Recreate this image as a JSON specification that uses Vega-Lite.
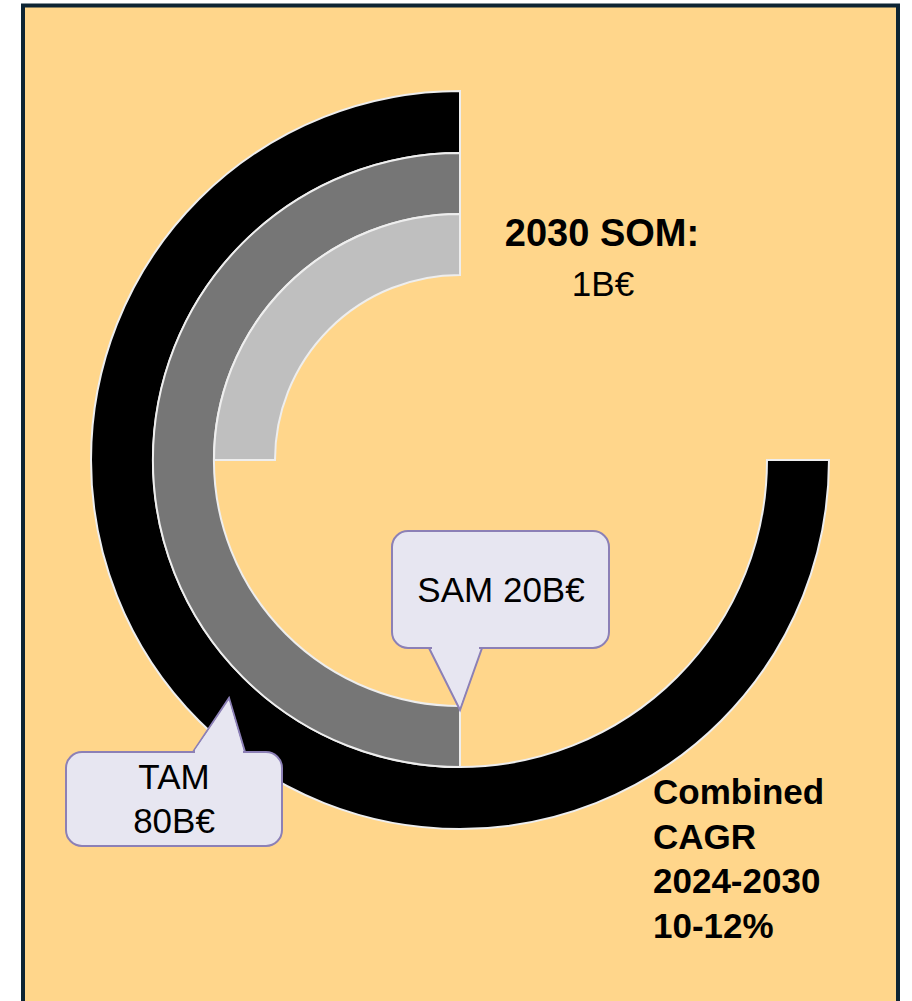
{
  "$schema": "https://vega.github.io/schema/vega-lite/v6.json",
  "width": 912,
  "height": 1001,
  "autosize": {"type": "none"},
  "padding": 0,
  "background": "#ffffff",
  "config": {"view": {"stroke": null}},
  "datasets": {
    "frame": [{"x": 23, "x2": 898, "y": 5.5, "y2": 1012}],
    "rings": [
      {"market": "TAM", "start": 90, "end": 360, "r_in": 307, "r_out": 369, "cx": 460, "cy": 460},
      {"market": "SAM", "start": 180, "end": 360, "r_in": 246, "r_out": 307, "cx": 460, "cy": 460},
      {"market": "SOM", "start": 270, "end": 360, "r_in": 185, "r_out": 246, "cx": 460, "cy": 460}
    ],
    "boxes": [
      {"id": "SAM", "x": 392, "x2": 609, "y": 531, "y2": 648},
      {"id": "TAM", "x": 66, "x2": 282, "y": 752, "y2": 846}
    ],
    "pointers": [
      {"id": "SAM", "x": 429, "y": 648, "y2": 648},
      {"id": "SAM", "x": 460, "y": 710, "y2": 648},
      {"id": "SAM", "x": 482, "y": 648, "y2": 648},
      {"id": "TAM", "x": 193, "y": 752, "y2": 752},
      {"id": "TAM", "x": 229, "y": 698, "y2": 752},
      {"id": "TAM", "x": 245, "y": 752, "y2": 752}
    ],
    "covers": [
      {"id": "SAM", "x": 432, "y": 644, "y2": 650},
      {"id": "SAM", "x": 460, "y": 644, "y2": 706},
      {"id": "SAM", "x": 479, "y": 644, "y2": 650},
      {"id": "TAM", "x": 195, "y": 750, "y2": 756},
      {"id": "TAM", "x": 229, "y": 701, "y2": 756},
      {"id": "TAM", "x": 243, "y": 750, "y2": 756}
    ],
    "boldCenter": [{"text": "2030 SOM:", "x": 602, "y": 246}],
    "regularCenter": [
      {"text": "1B€", "x": 603, "y": 296},
      {"text": "SAM 20B€", "x": 501, "y": 602},
      {"text": "TAM", "x": 174, "y": 789},
      {"text": "80B€", "x": 174, "y": 833}
    ],
    "boldLeft": [
      {"text": "Combined", "x": 653, "y": 804},
      {"text": "CAGR", "x": 653, "y": 849},
      {"text": "2024-2030", "x": 653, "y": 893},
      {"text": "10-12%", "x": 653, "y": 938}
    ]
  },
  "layer": [
    {
      "data": {"name": "frame"},
      "mark": {"type": "rect", "fill": "#FFD68B", "stroke": "#0D2433", "strokeWidth": 4},
      "encoding": {
        "x": {"field": "x", "type": "quantitative", "scale": {"domain": [0, 912], "nice": false, "zero": false}, "axis": null},
        "x2": {"field": "x2"},
        "y": {"field": "y", "type": "quantitative", "scale": {"domain": [0, 1001], "nice": false, "zero": false, "reverse": true}, "axis": null},
        "y2": {"field": "y2"}
      }
    },
    {
      "data": {"name": "rings"},
      "mark": {"type": "arc", "stroke": "#EEEEEE", "strokeWidth": 2},
      "encoding": {
        "x": {"field": "cx", "type": "quantitative", "axis": null},
        "y": {"field": "cy", "type": "quantitative", "axis": null},
        "theta": {"field": "start", "type": "quantitative", "stack": null, "scale": {"domain": [0, 360], "range": [0, 6.283185307179586]}},
        "theta2": {"field": "end"},
        "radius": {"field": "r_in", "type": "quantitative", "scale": {"type": "linear", "domain": [0, 400], "range": [0, 400], "zero": true}},
        "radius2": {"field": "r_out"},
        "color": {"field": "market", "type": "nominal", "legend": null, "scale": {"domain": ["TAM", "SAM", "SOM"], "range": ["#000000", "#767676", "#BFBFBF"]}}
      }
    },
    {
      "data": {"name": "pointers"},
      "mark": {"type": "area", "fill": "#E7E6F1", "fillOpacity": 1, "stroke": "#8C80B6", "strokeWidth": 2},
      "encoding": {
        "x": {"field": "x", "type": "quantitative", "axis": null},
        "y": {"field": "y", "type": "quantitative", "axis": null},
        "y2": {"field": "y2"},
        "detail": {"field": "id"}
      }
    },
    {
      "data": {"name": "boxes"},
      "mark": {"type": "rect", "fill": "#E7E6F1", "stroke": "#8C80B6", "strokeWidth": 2, "cornerRadius": 16},
      "encoding": {
        "x": {"field": "x", "type": "quantitative", "axis": null},
        "x2": {"field": "x2"},
        "y": {"field": "y", "type": "quantitative", "axis": null},
        "y2": {"field": "y2"}
      }
    },
    {
      "data": {"name": "covers"},
      "mark": {"type": "area", "fill": "#E7E6F1", "fillOpacity": 1, "strokeWidth": 0},
      "encoding": {
        "x": {"field": "x", "type": "quantitative", "axis": null},
        "y": {"field": "y", "type": "quantitative", "axis": null},
        "y2": {"field": "y2"},
        "detail": {"field": "id"}
      }
    },
    {
      "data": {"name": "boldCenter"},
      "mark": {"type": "text", "font": "Liberation Sans", "fontWeight": "bold", "fontSize": 38, "align": "center", "baseline": "alphabetic", "color": "#000000"},
      "encoding": {
        "x": {"field": "x", "type": "quantitative", "axis": null},
        "y": {"field": "y", "type": "quantitative", "axis": null},
        "text": {"field": "text"}
      }
    },
    {
      "data": {"name": "regularCenter"},
      "mark": {"type": "text", "font": "Liberation Sans", "fontWeight": "normal", "fontSize": 35, "align": "center", "baseline": "alphabetic", "color": "#000000"},
      "encoding": {
        "x": {"field": "x", "type": "quantitative", "axis": null},
        "y": {"field": "y", "type": "quantitative", "axis": null},
        "text": {"field": "text"}
      }
    },
    {
      "data": {"name": "boldLeft"},
      "mark": {"type": "text", "font": "Liberation Sans", "fontWeight": "bold", "fontSize": 35, "align": "left", "baseline": "alphabetic", "color": "#000000"},
      "encoding": {
        "x": {"field": "x", "type": "quantitative", "axis": null},
        "y": {"field": "y", "type": "quantitative", "axis": null},
        "text": {"field": "text"}
      }
    }
  ]
}
